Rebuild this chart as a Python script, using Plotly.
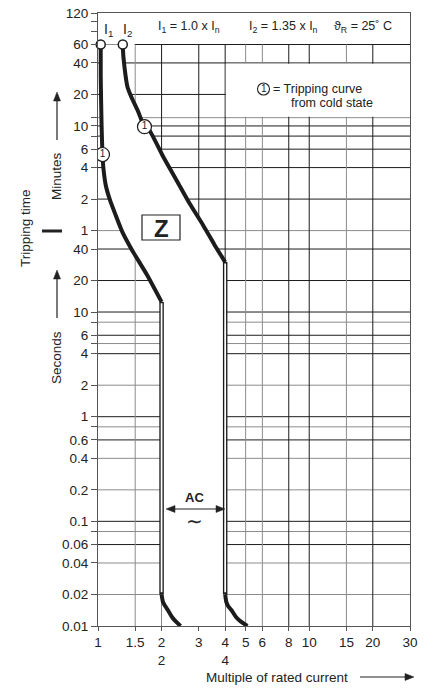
import numpy as np
import plotly.graph_objects as go

# ---------------- data ----------------
x_ticks = [1, 1.5, 2, 3, 4, 5, 6, 8, 10, 15, 20, 30]
x_ticktext = ["1", "1.5", "2<br>2", "3", "4<br>4", "5", "6", "8", "10", "15", "20", "30"]

# seconds part of the time axis (labelled ticks)
sec_ticks = [0.01, 0.02, 0.04, 0.06, 0.1, 0.2, 0.4, 0.6, 1, 2, 4, 6, 10, 20, 40]
sec_labels = ["0.01", "0.02", "0.04", "0.06", "0.1", "0.2", "0.4", "0.6", "1", "2", "4", "6", "10", "20", "40"]
sec_unlabelled = [0.08, 0.8, 5, 8]
# minutes part of the time axis
min_ticks = [1, 2, 4, 6, 10, 20, 40, 60, 120]
min_labels = ["1", "2", "4", "6", "10", "20", "40", "60", "120"]
min_unlabelled = [8, 12, 80, 100]

grid_x_dark = [2, 3, 4, 8, 10, 20]
grid_x_gray = [1.5, 5, 6, 15]
grid_sec_dark = [0.06, 0.1, 0.6, 1, 4, 6, 10, 20, 40]
grid_sec_gray = [0.02, 0.04, 0.08, 0.2, 0.4, 0.8, 2, 5, 8]
grid_min_dark = [2, 4, 6, 8, 10, 20, 40, 60]
grid_min_gray = [1, 12]

# I1 limit curve (multiple of In, seconds)
i1_x = [1.03, 1.03, 1.04, 1.05, 1.06, 1.09, 1.14, 1.21, 1.30, 1.45, 1.71, 2.0]
i1_t = [3600, 1800, 600, 320, 240, 160, 117, 85, 59, 39, 22.5, 12.5]
i1_low_x = [2.0, 2.03, 2.08, 2.14, 2.24, 2.34, 2.46]
i1_low_t = [0.02, 0.017, 0.0155, 0.0142, 0.0122, 0.011, 0.01]

# I2 limit curve
i2_x = [1.31, 1.31, 1.335, 1.38, 1.44, 1.54, 1.66, 1.75, 2.03, 2.368, 2.729, 3.145, 3.547, 4.0]
i2_t = [3600, 3400, 2185, 1407, 1130, 848, 590, 546, 308, 178, 107, 67.6, 44.5, 30]
i2_low_x = [4.0, 4.05, 4.13, 4.28, 4.5, 4.75, 5.1]
i2_low_t = [0.02, 0.017, 0.0155, 0.0142, 0.0122, 0.011, 0.01]

cold_x = [1.05, 1.66]
cold_t = [320, 590]
top_x = [i1_x[0], i2_x[0]]
top_t = [i1_t[0], i2_t[0]]

t_min, t_max = sec_ticks[0], min_ticks[-1] * 60
x_min, x_max = x_ticks[0], x_ticks[-1]

DARK = "#1c1c1c"
GRAY = "#8c8c8c"
FONT = "Liberation Sans, Arial, Helvetica, sans-serif"

fig = go.Figure()


def hlines(vals, color):
    xs, ys = [], []
    for v in vals:
        xs += [x_min, x_max, None]
        ys += [v, v, None]
    fig.add_trace(go.Scatter(x=xs, y=ys, mode="lines", line=dict(color=color, width=1),
                             hoverinfo="skip"))


def vlines(vals, color):
    xs, ys = [], []
    for v in vals:
        xs += [v, v, None]
        ys += [t_min, 3600, None]
    fig.add_trace(go.Scatter(x=xs, y=ys, mode="lines", line=dict(color=color, width=1),
                             hoverinfo="skip"))


hlines(grid_sec_gray + [m * 60 for m in grid_min_gray], GRAY)
hlines(grid_sec_dark + [m * 60 for m in grid_min_dark], DARK)
vlines(grid_x_gray, GRAY)
vlines(grid_x_dark, DARK)

# white tolerance band between the two curves (masks the grid)
band_x = i1_x + [i1_low_x[0], i1_low_x[0], i2_low_x[0]] + i2_x[::-1]
band_t = i1_t + [i1_low_t[0], t_min, t_min] + i2_t[::-1]
fig.add_trace(go.Scatter(x=band_x, y=band_t, mode="lines", fill="toself",
                         fillcolor="white", line=dict(width=0, color="white"),
                         hoverinfo="skip"))
# the 60 min line only starts at 1.5
fig.add_trace(go.Scatter(x=[i2_x[0], 1.49, 1.49, i2_x[0]], y=[3750, 3750, 3400, 3400],
                         mode="lines", fill="toself", fillcolor="white",
                         line=dict(width=0, color="white"), hoverinfo="skip"))
# white box for the legend note
fig.add_trace(go.Scatter(x=[4.03, x_max, x_max, 4.03, 4.03],
                         y=[12.25 * 60, 12.25 * 60, 39.2 * 60, 39.2 * 60, 12.25 * 60],
                         mode="lines", fill="toself", fillcolor="white",
                         line=dict(width=0, color="white"), hoverinfo="skip"))

# vertical (magnetic) parts drawn as outlined double lines
for xv, ttop in [(i1_x[-1], i1_t[-1]), (i2_x[-1], i2_t[-1])]:
    fig.add_trace(go.Scatter(x=[xv, xv], y=[ttop, 0.02], mode="lines",
                             line=dict(color=DARK, width=4.5), hoverinfo="skip"))
    fig.add_trace(go.Scatter(x=[xv, xv], y=[ttop * 0.97, 0.021], mode="lines",
                             line=dict(color="white", width=1.8), hoverinfo="skip"))

for xs, ts in [(i1_x, i1_t), (i2_x, i2_t), (i1_low_x, i1_low_t), (i2_low_x, i2_low_t)]:
    fig.add_trace(go.Scatter(x=xs, y=ts, mode="lines",
                             line=dict(color=DARK, width=4, shape="spline", smoothing=0.6),
                             hoverinfo="skip"))

fig.add_trace(go.Scatter(x=top_x, y=top_t, mode="markers",
                         marker=dict(size=9, color="white", line=dict(color=DARK, width=1.5)),
                         hoverinfo="skip", cliponaxis=False))
fig.add_trace(go.Scatter(x=cold_x, y=cold_t, mode="markers+text", text=["1", "1"],
                         textposition="middle center",
                         textfont=dict(size=10, family=FONT, color=DARK),
                         marker=dict(size=14, color="white", line=dict(color=DARK, width=1.2)),
                         hoverinfo="skip"))

# ---------------- layout ----------------
L, R, T, B = 98, 410, 13, 626


def px(x):
    return (x - L) / (R - L)


def py(y):
    return (B - y) / (B - T)


y_tickvals = sec_ticks + [m * 60 for m in min_ticks]
y_ticktext = sec_labels + min_labels
y_minor = sec_unlabelled + [m * 60 for m in min_unlabelled]

fig.update_layout(
    width=424, height=692,
    margin=dict(l=L, r=424 - R, t=T, b=692 - B, autoexpand=False),
    plot_bgcolor="white", paper_bgcolor="white",
    showlegend=False,
    font=dict(family=FONT, size=13.5, color="#222"),
    xaxis=dict(type="log", range=[np.log10(x_min), np.log10(x_max)], automargin=False,
               tickvals=x_ticks, ticktext=x_ticktext, tickangle=0,
               showgrid=False, zeroline=False, showline=True, mirror=True,
               linecolor="#555", linewidth=1, ticks="outside", ticklen=4,
               tickcolor="#555", tickfont=dict(size=13.5)),
    yaxis=dict(type="log", range=[np.log10(t_min), np.log10(t_max)], automargin=False,
               tickvals=y_tickvals, ticktext=y_ticktext,
               minor=dict(tickvals=y_minor, ticks="outside", ticklen=6, tickcolor="#555",
                          showgrid=False),
               showgrid=False, zeroline=False, showline=True, mirror=True,
               linecolor="#555", linewidth=1, ticks="outside", ticklen=6,
               tickcolor="#555", tickfont=dict(size=13.5)),
)

ann = []


def text(x, y, s, size=13.5, angle=0, xanchor="center", bold=False):
    if bold:
        s = "<b>" + s + "</b>"
    ann.append(dict(x=px(x), y=py(y), xref="paper", yref="paper", text=s, showarrow=False,
                    font=dict(size=size, family=FONT, color="#222"), textangle=angle,
                    xanchor=xanchor, yanchor="middle"))


text(25, 228, "Tripping time", angle=-90)
text(56, 176, "Minutes", angle=-90)
text(56, 358, "Seconds", angle=-90)
text(277, 677, "Multiple of rated current")

text(108, 30, "I<sub>1</sub>", size=14)
text(127, 30, "I<sub>2</sub>", size=14)
text(189, 27, "I<sub>1</sub> = 1.0 x I<sub>n</sub>", size=12.5)
text(283, 27, "I<sub>2</sub> = 1.35 x I<sub>n</sub>", size=12.5)
text(363, 27, "ϑ<sub>R</sub> = 25˚ C", size=12.5)

text(271, 89, "= Tripping curve", size=12.5, xanchor="left")
text(289, 103, "from cold state", size=12.5, xanchor="left")
text(263.5, 89, "1", size=10)

text(161, 228, "Z", size=24, bold=True)
text(194, 497, "AC", size=13, bold=True)
text(194, 521, "∼", size=20)

fig.update_layout(annotations=ann)


def seg(x0, y0, x1, y1, w=1.2):
    return dict(type="line", xref="paper", yref="paper", x0=px(x0), x1=px(x1),
                y0=py(y0), y1=py(y1), line=dict(color="#222", width=w), layer="above")


def head(xt, yt, dx, dy, ln=9, hw=3.5):
    # arrow head with tip at (xt, yt) pointing along (dx, dy) (unit, pixel space)
    bx, by = xt - dx * ln, yt - dy * ln
    nx, ny = -dy, dx
    pts = [(xt, yt), (bx + nx * hw, by + ny * hw), (bx - nx * hw, by - ny * hw)]
    path = "M " + " L ".join(f"{px(a):.5f},{py(b):.5f}" for a, b in pts) + " Z"
    return dict(type="path", xref="paper", yref="paper", path=path,
                fillcolor="#222", line=dict(color="#222", width=0.5), layer="above")


shapes = [
    seg(42, 231, 62, 231, 3),
    dict(type="circle", xref="paper", yref="paper", x0=px(257.5), x1=px(269.5),
         y0=py(83), y1=py(95), line=dict(color="#222", width=1.1), fillcolor="white",
         layer="above"),
    dict(type="rect", xref="paper", yref="paper", x0=px(142), x1=px(180),
         y0=py(215), y1=py(240), line=dict(color="#222", width=1.2), fillcolor="white",
         layer="above"),
    # Minutes arrow
    seg(57, 140, 57, 98), head(57, 92, 0, -1),
    # Seconds arrow
    seg(57, 318, 57, 276), head(57, 270, 0, -1),
    # x title arrow
    seg(360, 677, 408, 677), head(414, 677, 1, 0),
    # AC double arrow
    seg(172, 509, 219, 509), head(225, 509, 1, 0), head(166, 509, -1, 0),
]
fig.update_layout(shapes=shapes)

fig.write_html("out.html", config={"displayModeBar": False},
               post_script="document.body.style.margin='0px';")
